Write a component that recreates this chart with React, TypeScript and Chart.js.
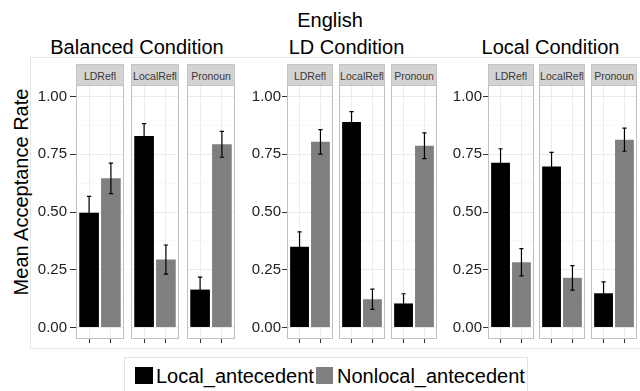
import React, { useEffect, useRef } from 'react';
import { Chart, registerables } from 'chart.js';

Chart.register(...registerables);

// ---------- data ----------
const figureTitle = 'English';
const conditions = ['Balanced Condition', 'LD Condition', 'Local Condition'];
const facets = ['LDRefl', 'LocalRefl', 'Pronoun'];
const groups = ['Local_antecedent', 'Nonlocal_antecedent'];
const yAxisTitle = 'Mean Acceptance Rate';
const yTickValues = [0, 0.25, 0.5, 0.75, 1];
const yTickLabels = ['0.00', '0.25', '0.50', '0.75', '1.00'];
const yMinorGrid = [0.125, 0.375, 0.625, 0.875];

// [condition][facet]
const localMean = [
  [0.497, 0.829, 0.164],
  [0.349, 0.890, 0.104],
  [0.713, 0.697, 0.148],
];
const nonlocalMean = [
  [0.646, 0.294, 0.793],
  [0.804, 0.122, 0.787],
  [0.282, 0.215, 0.813],
];
const localErr = [
  [0.071, 0.054, 0.054],
  [0.065, 0.045, 0.042],
  [0.061, 0.061, 0.049],
];
const nonlocalErr = [
  [0.066, 0.063, 0.056],
  [0.053, 0.044, 0.056],
  [0.059, 0.053, 0.050],
];
const groupColors = ['#000000', '#7f7f7f'];

// ---------- layout ----------
const FONT = '"Liberation Sans", Arial, Helvetica, sans-serif';
const PANEL_TOP = 85;
const PANEL_H = 254;
const STRIP_TOP = 64;
const STRIP_H = 22;
const XAXIS_H = 7;
const AXIS_W = 45;
const panelLefts = [
  [76, 131, 187],
  [287, 339, 391],
  [488, 539, 591],
];
const panelWidths = [48, 46, 46];
const titleCenters = [137, 346.5, 550.5];
const yTickLen = [6, 5, 5];
const yTickPad = [3, 1, 1];

Chart.defaults.font.family = FONT;

function isMajor(v: number) {
  return yTickValues.indexOf(v) >= 0;
}

function makeDecoPlugin(errs: number[]) {
  return {
    id: 'panelDeco',
    afterDatasetsDraw(chart: any) {
      const { ctx } = chart;
      const xs = chart.scales.x;
      const ys = chart.scales.y;
      ctx.save();
      ctx.strokeStyle = '#000';
      ctx.lineWidth = 1.2;
      chart.data.datasets[0].data.forEach((d: any, i: number) => {
        const cx = xs.getPixelForValue(d.x);
        const hw = xs.getPixelForValue(d.x + 0.1) - cx;
        const yt = ys.getPixelForValue(d.y + errs[i]);
        const yb = ys.getPixelForValue(d.y - errs[i]);
        ctx.beginPath();
        ctx.moveTo(cx, yt);
        ctx.lineTo(cx, yb);
        ctx.moveTo(cx - hw, yt);
        ctx.lineTo(cx + hw, yt);
        ctx.moveTo(cx - hw, yb);
        ctx.lineTo(cx + hw, yb);
        ctx.stroke();
      });
      ctx.restore();
    },
    afterDraw(chart: any) {
      const { ctx, chartArea: a } = chart;
      ctx.save();
      ctx.strokeStyle = '#c0c0c0';
      ctx.lineWidth = 1;
      ctx.strokeRect(a.left + 0.5, a.top + 0.5, a.right - a.left - 1, a.bottom - a.top - 1);
      ctx.restore();
    },
  };
}

function Panel({ ci, fi }: { ci: number; fi: number }) {
  const ref = useRef<HTMLCanvasElement>(null);
  const withAxis = fi === 0;
  const pw = panelWidths[ci];
  const cw = pw + (withAxis ? AXIS_W : 0);
  const ch = PANEL_H + XAXIS_H;
  const left = panelLefts[ci][fi] - (withAxis ? AXIS_W : 0);

  useEffect(() => {
    if (!ref.current) return;
    const means = [localMean[ci][fi], nonlocalMean[ci][fi]];
    const errs = [localErr[ci][fi], nonlocalErr[ci][fi]];
    const gridVals = [...yTickValues, ...yMinorGrid].sort((a, b) => a - b);
    const chart = new Chart(ref.current, {
      type: 'bar',
      data: {
        datasets: [
          {
            label: groups.join(' / '),
            data: means.map((m, i) => ({ x: i + 1, y: m })),
            backgroundColor: groupColors,
            borderWidth: 0,
            barPercentage: 0.9,
            categoryPercentage: 1,
          },
        ],
      },
      options: {
        animation: false,
        responsive: false,
        maintainAspectRatio: false,
        layout: { padding: 0, autoPadding: false },
        plugins: {
          legend: { display: false },
          tooltip: { enabled: false },
        },
        scales: {
          x: {
            type: 'linear',
            min: 0.4,
            max: 2.6,
            offset: false,
            afterBuildTicks: (s: any) => {
              s.ticks = [{ value: 1 }, { value: 2 }];
            },
            afterFit: (s: any) => {
              s.height = XAXIS_H;
              s.paddingLeft = 0;
              s.paddingRight = 0;
            },
            ticks: { display: false },
            grid: {
              offset: false,
              color: '#ebebeb',
              lineWidth: 1,
              drawTicks: true,
              tickLength: 4,
              tickColor: '#333333',
              tickWidth: 1,
            },
            border: { display: false },
          },
          y: {
            type: 'linear',
            min: -0.05,
            max: 1.05,
            afterBuildTicks: (s: any) => {
              s.ticks = gridVals.map((v) => ({ value: v }));
            },
            afterFit: (s: any) => {
              s.width = withAxis ? AXIS_W : 0;
              s.paddingTop = 0;
              s.paddingBottom = 0;
            },
            ticks: {
              display: withAxis,
              autoSkip: false,
              padding: yTickPad[ci],
              color: '#222222',
              font: { family: FONT, size: 15 },
              callback: (v: any) => {
                const i = yTickValues.indexOf(v);
                return i >= 0 ? yTickLabels[i] : '';
              },
            },
            grid: {
              offset: false,
              color: (c: any) => (isMajor(c.tick.value) ? '#ebebeb' : '#f3f3f3'),
              lineWidth: (c: any) => (isMajor(c.tick.value) ? 1 : 0.6),
              drawTicks: withAxis,
              tickLength: yTickLen[ci],
              tickColor: (c: any) => (isMajor(c.tick.value) ? '#333333' : 'rgba(0,0,0,0)'),
              tickWidth: 1,
            },
            border: { display: false },
          },
        },
      } as any,
      plugins: [makeDecoPlugin(errs)],
    });
    return () => chart.destroy();
  }, [ci, fi]);

  return (
    <canvas
      ref={ref}
      width={cw}
      height={ch}
      style={{ position: 'absolute', left, top: PANEL_TOP, width: cw, height: ch }}
    />
  );
}

const textBase: React.CSSProperties = {
  position: 'absolute',
  whiteSpace: 'nowrap',
  fontFamily: FONT,
  color: '#000',
};

export default function App() {
  return (
    <div
      style={{
        position: 'fixed',
        left: 0,
        top: 0,
        width: 640,
        height: 391,
        overflow: 'hidden',
        background: '#ffffff',
        fontFamily: FONT,
      }}
    >
      {/* outer frame */}
      <div
        style={{
          position: 'absolute',
          left: 30,
          top: 57,
          width: 640,
          height: 292,
          border: '1px solid #e6e6e6',
          boxSizing: 'border-box',
        }}
      />
      {/* main title */}
      <div style={{ ...textBase, left: 330, top: 10, fontSize: 20, lineHeight: '20px', transform: 'translateX(-50%)' }}>
        {figureTitle}
      </div>
      {/* condition titles */}
      {conditions.map((c, ci) => (
        <div
          key={c}
          style={{ ...textBase, left: titleCenters[ci], top: 37, fontSize: 20, lineHeight: '20px', transform: 'translateX(-50%)' }}
        >
          {c}
        </div>
      ))}
      {/* y axis title */}
      <div
        style={{
          ...textBase,
          left: 21,
          top: 192,
          fontSize: 20,
          lineHeight: '20px',
          transform: 'translate(-50%, -50%) rotate(-90deg)',
        }}
      >
        {yAxisTitle}
      </div>
      {/* strips */}
      {conditions.map((c, ci) =>
        facets.map((f, fi) => (
          <div
            key={c + f}
            style={{
              position: 'absolute',
              left: panelLefts[ci][fi],
              top: STRIP_TOP,
              width: panelWidths[ci],
              height: STRIP_H,
              boxSizing: 'border-box',
              background: '#d3d3d3',
              border: '1px solid #c4c4c4',
              display: 'flex',
              alignItems: 'center',
              justifyContent: 'center',
              paddingTop: 2,
              fontFamily: FONT,
              fontSize: 10.5,
              color: '#3a3a3a',
              whiteSpace: 'nowrap',
              overflow: 'visible',
            }}
          >
            {f}
          </div>
        ))
      )}
      {/* panels */}
      {conditions.map((c, ci) => facets.map((f, fi) => <Panel key={c + f + 'p'} ci={ci} fi={fi} />))}
      {/* legend */}
      <div
        style={{
          position: 'absolute',
          left: 124,
          top: 357,
          width: 404,
          height: 50,
          border: '1px solid #e3e3e3',
          boxSizing: 'border-box',
        }}
      />
      <div style={{ position: 'absolute', left: 135, top: 367, width: 18, height: 17, background: groupColors[0] }} />
      <div style={{ ...textBase, left: 156, top: 366, fontSize: 20, lineHeight: '20px' }}>{groups[0]}</div>
      <div style={{ position: 'absolute', left: 316, top: 367, width: 17, height: 17, background: groupColors[1] }} />
      <div style={{ ...textBase, left: 337, top: 366, fontSize: 20, lineHeight: '20px' }}>{groups[1]}</div>
    </div>
  );
}
